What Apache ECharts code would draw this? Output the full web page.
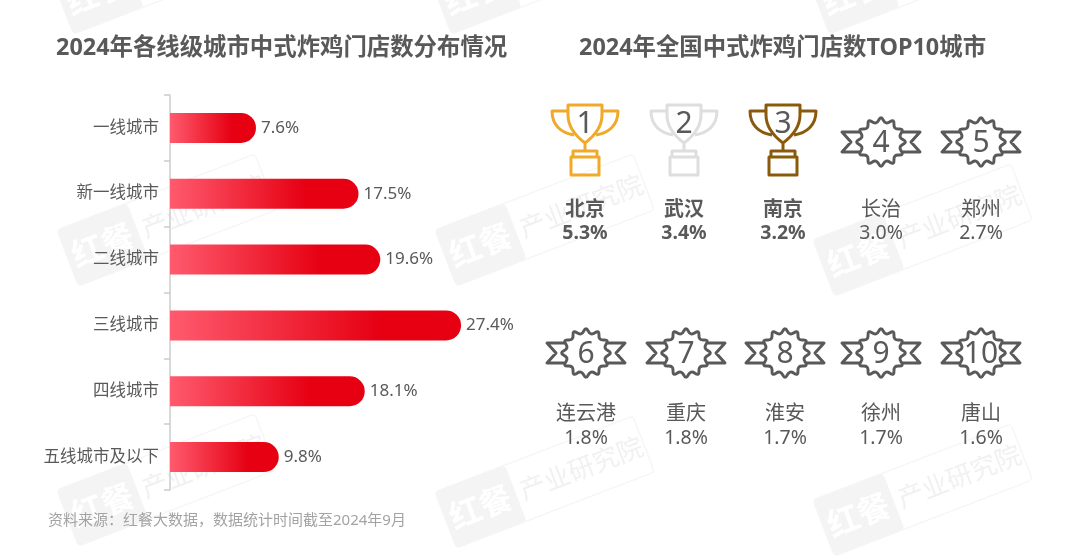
<!DOCTYPE html>
<html>
<head>
<meta charset="utf-8">
<style>html,body{margin:0;padding:0;background:#fff}#c{width:1080px;height:559px}</style>
<script src="https://cdn.jsdelivr.net/npm/echarts@6/dist/echarts.min.js"></script>
</head>
<body>
<div id="c"></div>
<script>
const tierNames = ['一线城市','新一线城市','二线城市','三线城市','四线城市','五线城市及以下'];
const tierShares = [7.6,17.5,19.6,27.4,18.1,9.8];
const topCities = ['北京','武汉','南京','长治','郑州','连云港','重庆','淮安','徐州','唐山'];
const topShares = [5.3,3.4,3.2,3.0,2.7,1.8,1.8,1.7,1.7,1.6];
const titleLeft = '2024年各线级城市中式炸鸡门店数分布情况';
const titleRight = '2024年全国中式炸鸡门店数TOP10城市';
const sourceNote = '资料来源：红餐大数据，数据统计时间截至2024年9月';

const FONT = '"Noto Sans","Noto Sans CJK SC",sans-serif';
const INK = '#595959';
const colX = [[585,684,783,881,981],[586,686,785,881,981]];
const trophyColors = ['#efaa2a','#dedede','#8a5a0c'];
const AXIS_MIN = -0.7;

function wavyStar(R, r, n){
  const pts=[];
  for(let i=0;i<n*2;i++){
    const a=-Math.PI/2+i*Math.PI/n, q=i%2?r:R;
    pts.push([q*Math.cos(a),q*Math.sin(a)]);
  }
  const mid=(p,q)=>[(p[0]+q[0])/2,(p[1]+q[1])/2];
  let s='';
  const st=mid(pts[pts.length-1],pts[0]);
  s+='M'+st[0].toFixed(2)+' '+st[1].toFixed(2);
  pts.forEach((p,i)=>{
    const m=mid(p,pts[(i+1)%pts.length]);
    s+='Q'+p[0].toFixed(2)+' '+p[1].toFixed(2)+' '+m[0].toFixed(2)+' '+m[1].toFixed(2);
  });
  return s+'Z';
}
const trophyPath =
  'M-17 0H17V10C17 22 8 32 0 38C-8 32 -17 22 -17 10Z'+
  'M-17 6H-33C-33 20 -24 28 -11 30M17 6H33C33 20 24 28 11 30'+
  'M0 38V46M-12 52V46H12V52M-14 52H14V70H-14Z';
const ribbonPath =
  'M-19 -10H-39L-30 0L-39 10H-19'+
  'M19 -10H39L30 0L39 10H19';
const starPath = wavyStar(26.75,17.75,12);

const els = [];
const wmOrigins = [[52,-22],[430,-22],[808,-22],[57,230],[435,230],[813,240],[57,490],[435,492],[813,500]];
wmOrigins.forEach(o=>{
  els.push({type:'group',x:o[0],y:o[1],rotation:0.367,silent:true,children:[
    {type:'rect',z:0,shape:{x:0,y:0,width:212,height:60,r:4},style:{fill:'#fff',stroke:'#f6f6f6',lineWidth:1.5}},
    {type:'rect',z:0,shape:{x:0,y:0,width:75,height:60,r:4},style:{fill:'#f4f4f4'}},
    {type:'text',z:0,x:37,y:30,style:{text:'红餐',font:'bold 32px "Noto Sans CJK SC"',fill:'#fff',align:'center',verticalAlign:'middle'}},
    {type:'text',z:0,x:145,y:30,style:{text:'产业研究院',font:'26px "Noto Sans CJK SC"',fill:'#f1f1f1',align:'center',verticalAlign:'middle'}}
  ]});
});
els.push({type:'text',z:7,x:48,y:521,style:{text:sourceNote,font:'15px '+FONT,fill:'#a3a3a3',align:'left',verticalAlign:'middle'}});

function renderTop(params,api){
  const i=params.dataIndex;
  const name=topCities[i], share=topShares[i];
  const row=i<5?0:1, cx=colX[row][i%5];
  const nameY=row?414:210.5, valY=row?438.5:233.5;
  const weight=i<3?'bold ':'';
  const kids=[];
  if(i<3){
    kids.push({type:'path',x:cx,y:105,shape:{pathData:trophyPath},
      style:{fill:'none',stroke:trophyColors[i],lineWidth:3,lineJoin:'round'}});
  }else{
    const cy=row?353:142;
    kids.push({type:'path',x:cx,y:cy,shape:{pathData:ribbonPath},
      style:{fill:'none',stroke:INK,lineWidth:3,lineJoin:'round'}});
    kids.push({type:'path',x:cx,y:cy,shape:{pathData:starPath},
      style:{fill:'#fff',stroke:INK,lineWidth:3,lineJoin:'round'}});
  }
  kids.push({type:'text',x:cx,y:i<3?124:(row?354:143),style:{text:String(i+1),font:'30px "Noto Sans"',fill:INK,align:'center',verticalAlign:'middle'}});
  kids.push({type:'text',x:cx,y:nameY,style:{text:name,font:weight+'20px '+FONT,fill:INK,align:'center',verticalAlign:'middle'}});
  kids.push({type:'text',x:cx,y:valY,style:{text:share.toFixed(1)+'%',font:weight+'19.5px '+FONT,fill:INK,align:'center',verticalAlign:'middle'}});
  return {type:'group',children:kids};
}

const chart = echarts.init(document.getElementById('c'),null,{renderer:'canvas'});
chart.setOption({
  animation:false,
  backgroundColor:'#fff',
  textStyle:{fontFamily:FONT},
  title:[
    {text:titleLeft,left:56,top:37,padding:0,textStyle:{fontSize:23.4,fontWeight:'bold',color:INK,fontFamily:FONT}},
    {text:titleRight,left:579,top:37,padding:0,textStyle:{fontSize:23.4,fontWeight:'bold',color:INK,fontFamily:FONT}}
  ],
  grid:{left:170,top:95,width:318,height:395,containLabel:false},
  xAxis:{type:'value',min:AXIS_MIN,max:30,show:false},
  yAxis:{type:'category',inverse:true,data:tierNames,
    axisLine:{show:true,onZero:false,lineStyle:{color:'#cccccc',width:1.5}},
    axisTick:{show:true,inside:false,length:6,lineStyle:{color:'#cccccc',width:1.5}},
    axisLabel:{fontSize:16.5,color:INK,margin:11,fontFamily:FONT},
    splitLine:{show:false}},
  series:[{
    type:'custom',
    name:'门店数占比',
    data:tierShares.map((v,i)=>[v,i]),
    encode:{x:0,y:1},
    z:3,
    renderItem:function(params,api){
      const v=api.value(0);
      const p=api.coord([v,api.value(1)]);
      const x0=api.coord([AXIS_MIN,api.value(1)])[0];
      const h=30;
      return {type:'group',children:[
        {type:'rect',shape:{x:x0,y:p[1]-h/2,width:p[0]-x0,height:h,r:[0,15,15,0]},
         style:{fill:new echarts.graphic.LinearGradient(0,0,1,0,[
           {offset:0,color:'#ff5a6e'},{offset:0.72,color:'#e60012'},{offset:1,color:'#e60012'}])}},
        {type:'text',x:p[0]+5,y:p[1],style:{text:v.toFixed(1)+'%',font:'17px '+FONT,fill:INK,align:'left',verticalAlign:'middle'}}
      ]};
    }
  },{
    type:'custom',
    name:'TOP10城市',
    coordinateSystem:'none',
    data:topShares,
    z:4,
    renderItem:renderTop
  }],
  graphic:{elements:els}
});
</script>
</body>
</html>
